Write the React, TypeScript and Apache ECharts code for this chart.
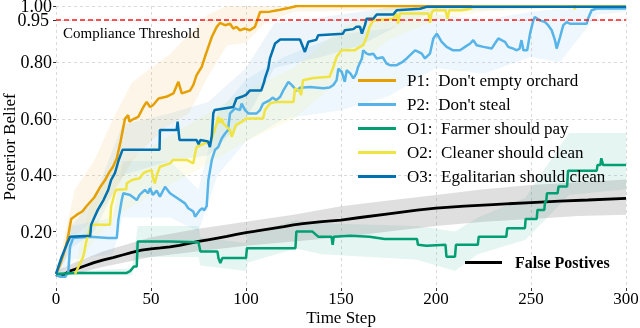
import React, { useEffect, useRef } from "react";
import * as echarts from "echarts";

const yTickValues = [0.2, 0.4, 0.6, 0.8, 0.95, 1.0];
const yLabelValues = [0.2, 0.4, 0.6, 0.8, 1.0];
const threshold = 0.95;

const namesMain = [
  "P1:  Don't empty orchard",
  "P2:  Don't steal",
  "O1:  Farmer should pay",
  "O2:  Cleaner should clean",
  "O3:  Egalitarian should clean",
];
const nameFP = "False Postives";
const colors = ["#E69F00", "#56B4E9", "#009E73", "#F0E442", "#0072B2"];

const p1: number[][] = [[0,0.05],[2,0.08],[4,0.12],[6,0.17],[8,0.245],[11,0.26],[14,0.272],[16,0.29],[18,0.305],[20,0.32],[23,0.355],[26,0.385],[28,0.41],[30,0.43],[32,0.46],[34,0.52],[36.3,0.6],[38,0.613],[38.6,0.59],[41,0.6],[43.3,0.607],[46,0.642],[47.7,0.66],[49.5,0.642],[51,0.648],[54,0.672],[58,0.678],[61.8,0.69],[64.4,0.731],[66.2,0.69],[70.5,0.7],[72.3,0.72],[74,0.755],[76.7,0.784],[78.4,0.82],[80.2,0.855],[82,0.89],[84.6,0.926],[86.3,0.94],[89,0.932],[91.6,0.937],[93.3,0.92],[95,0.926],[96.8,0.914],[99.5,0.92],[102,0.914],[104.7,0.926],[106.5,0.961],[107.4,0.979],[112.6,0.98],[118,0.987],[123,0.994],[126.7,1.0],[300,1.0]];

const p2: number[][] = [[0,0.045],[3,0.04],[5,0.04],[6.5,0.058],[7.4,0.147],[9,0.177],[17.9,0.182],[27.5,0.177],[32,0.177],[32.8,0.241],[34.6,0.312],[35.4,0.336],[39,0.33],[42.5,0.312],[44,0.33],[46.8,0.348],[48.5,0.336],[49.5,0.354],[51,0.33],[53,0.345],[54.7,0.324],[57.4,0.359],[60,0.336],[65.3,0.312],[67.9,0.3],[69.6,0.283],[72.3,0.271],[73.2,0.253],[75.8,0.277],[77,0.283],[78,0.275],[79.3,0.29],[80.2,0.383],[82,0.454],[83.7,0.49],[85.4,0.5],[87.2,0.53],[89,0.548],[90.5,0.56],[91.6,0.619],[94.2,0.637],[96.8,0.631],[97.7,0.654],[99.5,0.631],[101.2,0.619],[105.6,0.619],[107.4,0.631],[109,0.654],[112.6,0.666],[114,0.675],[116,0.666],[118,0.678],[119.6,0.7],[122.3,0.731],[124,0.72],[126.7,0.7],[128.4,0.71],[133.7,0.713],[140.7,0.708],[144,0.711],[146,0.72],[147.7,0.737],[148.6,0.778],[150.4,0.766],[152,0.731],[153,0.772],[155,0.76],[156.5,0.743],[158,0.76],[159,0.784],[161,0.814],[161.7,0.843],[163.5,0.831],[165,0.828],[167,0.831],[168.8,0.814],[172,0.818],[174,0.796],[175.8,0.79],[179.3,0.79],[182,0.8],[184.6,0.814],[187.2,0.831],[189,0.843],[190.5,0.838],[192.5,0.831],[194.2,0.814],[196.8,0.831],[198.6,0.885],[200.4,0.902],[201.5,0.89],[203,0.873],[205.6,0.855],[209,0.843],[212.6,0.843],[215.3,0.855],[218,0.867],[219.6,0.879],[221.4,0.861],[225,0.855],[229.3,0.849],[231,0.867],[232.8,0.885],[234.5,0.879],[236.3,0.873],[238,0.855],[240.7,0.849],[242.5,0.843],[244,0.849],[245,0.879],[246,0.843],[248,0.843],[249.5,0.902],[251.2,0.949],[252,0.961],[254.7,0.949],[257.4,0.943],[259,0.932],[260.9,0.914],[262.6,0.879],[263.5,0.849],[265.3,0.89],[267,0.932],[268.8,0.943],[270.5,0.937],[279.3,0.937],[280,0.955],[281.9,0.985],[284.6,0.991],[300,0.991]];

const o1: number[][] = [[0,0.05],[10,0.053],[37,0.053],[39,0.06],[41,0.076],[42.5,0.076],[43,0.165],[60,0.165],[75,0.162],[76,0.129],[85,0.129],[85.5,0.106],[86.5,0.088],[87.5,0.106],[100,0.106],[100.5,0.141],[126,0.141],[126.5,0.2],[135,0.2],[138,0.182],[145,0.182],[145.6,0.153],[146.2,0.182],[155,0.185],[165,0.182],[173,0.174],[190,0.174],[190.5,0.153],[195,0.15],[205,0.153],[205.5,0.111],[210,0.111],[210.5,0.153],[222,0.153],[222.5,0.182],[237,0.182],[237.5,0.212],[246.8,0.212],[247.2,0.245],[253,0.245],[253.4,0.277],[257,0.277],[257.4,0.306],[258,0.306],[258.4,0.336],[264,0.336],[264.5,0.36],[269,0.36],[269.5,0.416],[284.6,0.416],[285,0.436],[286.5,0.436],[287,0.46],[288,0.436],[300,0.436]];

const o2: number[][] = [[10,0.05],[11,0.064],[14.4,0.112],[16.1,0.17],[17.9,0.21],[18.5,0.224],[28.4,0.224],[29,0.288],[30.9,0.336],[31.6,0.348],[37,0.35],[37.2,0.371],[40,0.383],[44,0.389],[46,0.407],[47.7,0.413],[50.4,0.418],[51,0.39],[52,0.371],[53,0.4],[54.7,0.43],[60,0.442],[61.7,0.454],[68.7,0.454],[72.3,0.442],[73,0.47],[74,0.5],[80,0.518],[81,0.51],[82,0.53],[84.6,0.584],[85.4,0.607],[86.2,0.585],[87.2,0.601],[88,0.584],[91.6,0.56],[92.5,0.536],[93.3,0.55],[94.6,0.578],[97.7,0.589],[100.4,0.601],[109,0.601],[110,0.631],[112.6,0.654],[116,0.66],[125,0.66],[125.8,0.708],[128,0.7],[129,0.684],[130,0.737],[135.4,0.745],[144,0.749],[146,0.784],[147.7,0.82],[150.4,0.843],[157.4,0.843],[158.5,0.85],[161.7,0.861],[163.5,0.89],[165,0.926],[167,0.949],[177.5,0.955],[179.3,0.973],[180,0.938],[181,0.973],[196,0.973],[196.8,0.94],[197.6,0.973],[198.6,0.985],[205,0.985],[206,0.955],[207,0.985],[213.5,0.985],[218,0.99],[219.6,1.0],[272,1.0],[273,0.99],[274,1.0],[300,1.0]];

const o3: number[][] = [[0,0.05],[3,0.11],[5.6,0.153],[7.4,0.182],[18,0.185],[18.5,0.224],[20,0.247],[22,0.277],[25,0.312],[27.5,0.348],[29,0.383],[31,0.407],[33,0.454],[35,0.49],[54.5,0.49],[54.7,0.56],[63.5,0.56],[64,0.59],[65,0.525],[74,0.525],[75,0.51],[76,0.525],[80,0.52],[81,0.5],[82,0.54],[82.8,0.62],[83.5,0.631],[93.3,0.642],[95,0.672],[97.7,0.678],[100,0.685],[102,0.7],[108,0.7],[109.5,0.73],[110,0.744],[111.7,0.778],[112.6,0.814],[115.3,0.867],[118,0.881],[128.4,0.881],[131,0.837],[132.8,0.873],[137,0.88],[138,0.896],[151,0.902],[152,0.914],[156.5,0.918],[158,0.926],[160,0.926],[161,0.902],[162.6,0.932],[163.5,0.955],[167,0.955],[168.8,0.97],[177.5,0.97],[179.3,0.985],[191.6,0.99],[195,0.997],[300,0.997]];

const fp: number[][] = [[0,0.047],[1,0.044],[2.5,0.042],[4,0.046],[6,0.055],[8,0.062],[10,0.066],[15,0.078],[20,0.09],[25,0.1],[30,0.108],[35,0.117],[40,0.126],[45,0.134],[50,0.139],[55,0.142],[60,0.146],[65,0.151],[70,0.158],[75,0.165],[80,0.171],[85,0.177],[90,0.183],[95,0.19],[100,0.196],[110,0.207],[120,0.218],[125,0.224],[130,0.228],[140,0.235],[150,0.241],[160,0.25],[175,0.263],[190,0.276],[200,0.283],[215,0.29],[230,0.296],[250,0.303],[265,0.308],[280,0.312],[300,0.318]];

// bands: [t, lower, upper]
const p1Band: number[][] = [[0,0.04,0.06],[5,0.1,0.2],[10,0.18,0.35],[20,0.25,0.45],[30,0.33,0.6],[40,0.45,0.73],[50,0.52,0.78],[60,0.58,0.83],[70,0.62,0.9],[80,0.75,0.97],[90,0.86,1.0],[100,0.87,1.0],[110,0.94,1.0],[125,0.98,1.0],[300,1.0,1.0]];
const p2Band: number[][] = [[0,0.04,0.05],[8,0.1,0.22],[30,0.12,0.25],[35,0.25,0.45],[60,0.25,0.45],[75,0.2,0.35],[85,0.4,0.62],[100,0.52,0.74],[120,0.6,0.82],[150,0.63,0.9],[175,0.68,0.92],[200,0.78,0.97],[225,0.76,0.95],[250,0.82,0.98],[265,0.8,0.99],[285,0.97,1.0],[300,0.98,1.0]];
const o1Band: number[][] = [[0,0.045,0.055],[40,0.045,0.07],[43,0.11,0.22],[75,0.11,0.22],[76,0.08,0.18],[100,0.06,0.16],[101,0.09,0.19],[126,0.14,0.24],[140,0.12,0.23],[190,0.1,0.22],[210,0.06,0.2],[222,0.12,0.25],[247,0.17,0.32],[260,0.26,0.45],[270,0.33,0.55],[300,0.35,0.55]];
const o2Band: number[][] = [[10,0.05,0.08],[18,0.15,0.3],[30,0.25,0.42],[50,0.33,0.5],[75,0.42,0.6],[100,0.52,0.7],[125,0.6,0.78],[150,0.74,0.92],[175,0.88,1.0],[200,0.95,1.0],[225,0.98,1.0],[300,1.0,1.0]];
const o3Band: number[][] = [[0,0.04,0.06],[8,0.14,0.22],[20,0.2,0.32],[35,0.4,0.58],[60,0.45,0.62],[80,0.47,0.66],[100,0.6,0.78],[115,0.78,0.94],[140,0.82,0.96],[160,0.86,0.98],[180,0.93,1.0],[200,0.98,1.0],[300,1.0,1.0]];
const fpBand: number[][] = [[0,0.04,0.06],[10,0.05,0.09],[25,0.075,0.13],[50,0.11,0.18],[75,0.13,0.21],[100,0.15,0.235],[125,0.165,0.26],[150,0.18,0.29],[175,0.2,0.31],[200,0.22,0.33],[225,0.235,0.35],[250,0.245,0.365],[275,0.255,0.375],[300,0.26,0.385]];

const FONT = "Liberation Serif";

function band(id: string, pts: number[][], color: string, opacity: number) {
  return {
    type: "custom",
    id,
    silent: true,
    z: 1,
    data: pts,
    encode: { x: 0, y: [1, 2] },
    clip: true,
    renderItem: (params: any, api: any) => {
      if (params.dataIndex !== 0) return null;
      const top = pts.map((p) => api.coord([p[0], p[2]]));
      const bot = pts.slice().reverse().map((p) => api.coord([p[0], p[1]]));
      return {
        type: "polygon",
        shape: { points: top.concat(bot) },
        style: { fill: color, opacity },
      };
    },
  };
}

function line(name: string, data: number[][], color: string, width = 2.5) {
  return {
    type: "line",
    name,
    data,
    z: 3,
    symbol: "none",
    showSymbol: false,
    color,
    lineStyle: { color, width },
  };
}

export default function App() {
  const ref = useRef<HTMLDivElement>(null);
  useEffect(() => {
    if (!ref.current) return;
    const chart = echarts.init(ref.current, null, { renderer: "svg" });
    chart.setOption({
      animation: false,
      textStyle: { fontFamily: FONT },
      grid: { left: 56, right: 14, top: 6, bottom: 40, containLabel: false, outerBoundsMode: "none" },
      xAxis: {
        type: "value",
        min: 0,
        max: 300,
        interval: 50,
        name: "Time Step",
        nameLocation: "middle",
        nameGap: 21,
        nameMoveOverlap: false,
        nameTextStyle: { fontFamily: FONT, fontSize: 17, color: "#000" },
        axisLine: { show: false },
        axisTick: { show: true, length: 3, lineStyle: { color: "#333" } },
        axisLabel: { fontFamily: FONT, fontSize: 17, color: "#000", margin: 2, showMaxLabel: true },
        splitLine: { show: true, lineStyle: { color: "#d0d0d0", type: [3, 3], width: 0.8 } },
      },
      yAxis: {
        type: "value",
        min: 0,
        max: 1,
        interval: 0.2,
        name: "Posterior Belief",
        nameLocation: "middle",
        nameGap: 38,
        nameMoveOverlap: false,
        nameTextStyle: { fontFamily: FONT, fontSize: 17, color: "#000" },
        axisLine: { show: false },
        axisTick: { show: true, length: 3, customValues: yTickValues, lineStyle: { color: "#333" } },
        axisLabel: {
          fontFamily: FONT,
          fontSize: 18,
          color: "#000",
          margin: 4,
          showMaxLabel: true,
          customValues: yLabelValues,
          formatter: (v: number) => v.toFixed(2),
        },
        splitLine: { show: true, showMinLine: false, lineStyle: { color: "#d0d0d0", type: [3, 3], width: 0.8 } },
      },
      legend: [
        {
          orient: "vertical",
          left: 358,
          top: 72,
          padding: 0,
          itemWidth: 38,
          itemHeight: 3,
          itemGap: 7,
          icon: "rect",
          data: namesMain,
          textStyle: { fontFamily: FONT, fontSize: 17, color: "#000", lineHeight: 17, padding: [0, 0, 0, 6] },
        },
        {
          left: 465,
          top: 254,
          padding: 0,
          itemWidth: 37,
          itemHeight: 3,
          icon: "rect",
          data: [nameFP],
          textStyle: { fontFamily: FONT, fontSize: 16, fontWeight: "bold", color: "#000", lineHeight: 17, padding: [0, 0, 0, 8] },
        },
      ],
      graphic: [
        {
          type: "text",
          left: 63,
          top: 25,
          style: { text: "Compliance Threshold", font: `15px '${FONT}'`, fill: "#000" },
        },
      ],
      series: [
        band("b_p1", p1Band, colors[0], 0.09),
        band("b_p2", p2Band, colors[1], 0.1),
        band("b_o1", o1Band, colors[2], 0.1),
        band("b_o2", o2Band, colors[3], 0.1),
        band("b_o3", o3Band, colors[4], 0.07),
        band("b_fp", fpBand, "#808080", 0.25),
        {
          type: "line",
          name: "threshold",
          data: [],
          z: 2,
          symbol: "none",
          markLine: {
            silent: true,
            symbol: "none",
            data: [{ yAxis: threshold }],
            lineStyle: { color: "#ff1a1a", width: 1.5, type: [5, 3] },
            label: {
              show: true,
              position: "start",
              distance: 7,
              formatter: () => threshold.toFixed(2),
              fontFamily: FONT,
              fontSize: 18,
              color: "#000",
            },
          },
        },
        line(nameFP, fp, "#000000", 2.8),
        line(namesMain[0], p1, colors[0]),
        line(namesMain[1], p2, colors[1]),
        line(namesMain[2], o1, colors[2]),
        line(namesMain[3], o2, colors[3]),
        line(namesMain[4], o3, colors[4]),
      ],
    });
    return () => chart.dispose();
  }, []);
  return (
    <div
      ref={ref}
      style={{ position: "fixed", left: 0, top: 0, width: 640, height: 328 }}
    />
  );
}
